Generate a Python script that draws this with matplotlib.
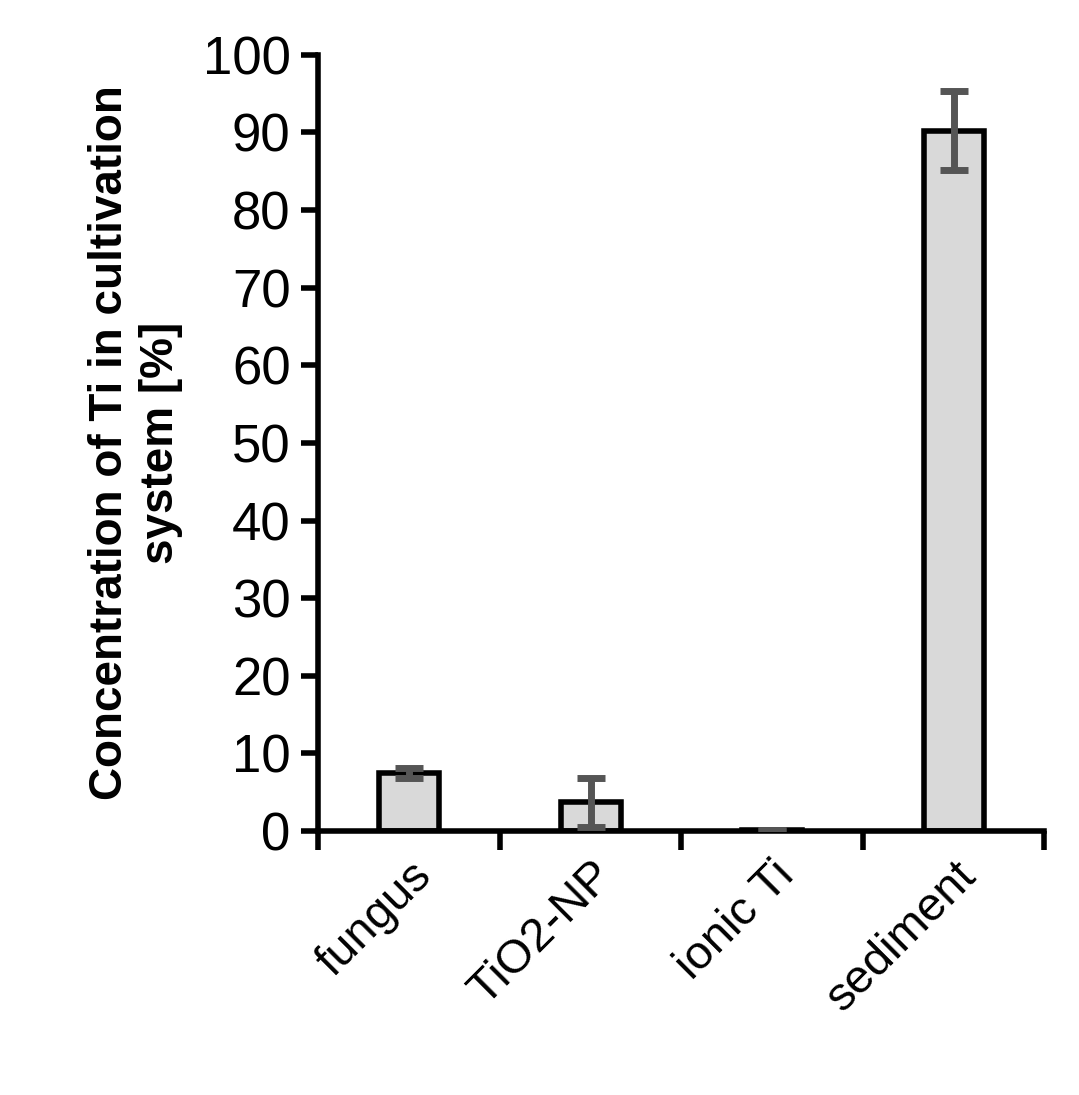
import numpy as np
import matplotlib.pyplot as plt

plt.rcParams['font.family'] = ['Liberation Sans', 'DejaVu Sans']

categories = ['fungus', 'TiO2-NP', 'ionic Ti', 'sediment']
values = [7.5, 3.7, 0.1, 90.2]
errors = [0.6, 3.2, 0.05, 5.1]

fig = plt.figure(figsize=(10.79, 10.95), dpi=100)
ax = fig.add_axes([0.295, 0.241, 0.673, 0.709])

x = np.arange(len(categories))
ax.bar(x, values, width=0.33, color='#d9d9d9', edgecolor='black', linewidth=4, zorder=2)
ax.errorbar(x, values, yerr=errors, fmt='none', ecolor='#555555', elinewidth=5,
            capsize=10, capthick=5, zorder=3)

ax.set_xlim(-0.5, len(categories) - 0.5)
ax.set_ylim(0, 100)
ax.set_yticks(np.arange(0, 101, 10))
ax.set_xticks(np.arange(-0.5, len(categories), 1))
ax.set_xticklabels([])
ax.set_xticks(x, minor=True)
ax.set_xticklabels(categories, minor=True, rotation=45, ha='right', rotation_mode='anchor')
ax.tick_params(axis='x', which='minor', length=0, labelsize=34, pad=16)
ax.tick_params(axis='x', which='major', length=14, width=4, direction='out')
ax.tick_params(axis='y', length=12, width=4, labelsize=38, pad=8)

for s in ['top', 'right']:
    ax.spines[s].set_visible(False)
for s in ['left', 'bottom']:
    ax.spines[s].set_linewidth(4)

ax.set_ylabel('Concentration of Ti in cultivation\nsystem [%]', fontsize=33,
              fontweight='bold', labelpad=14)

fig.savefig('out.png', dpi=100)
